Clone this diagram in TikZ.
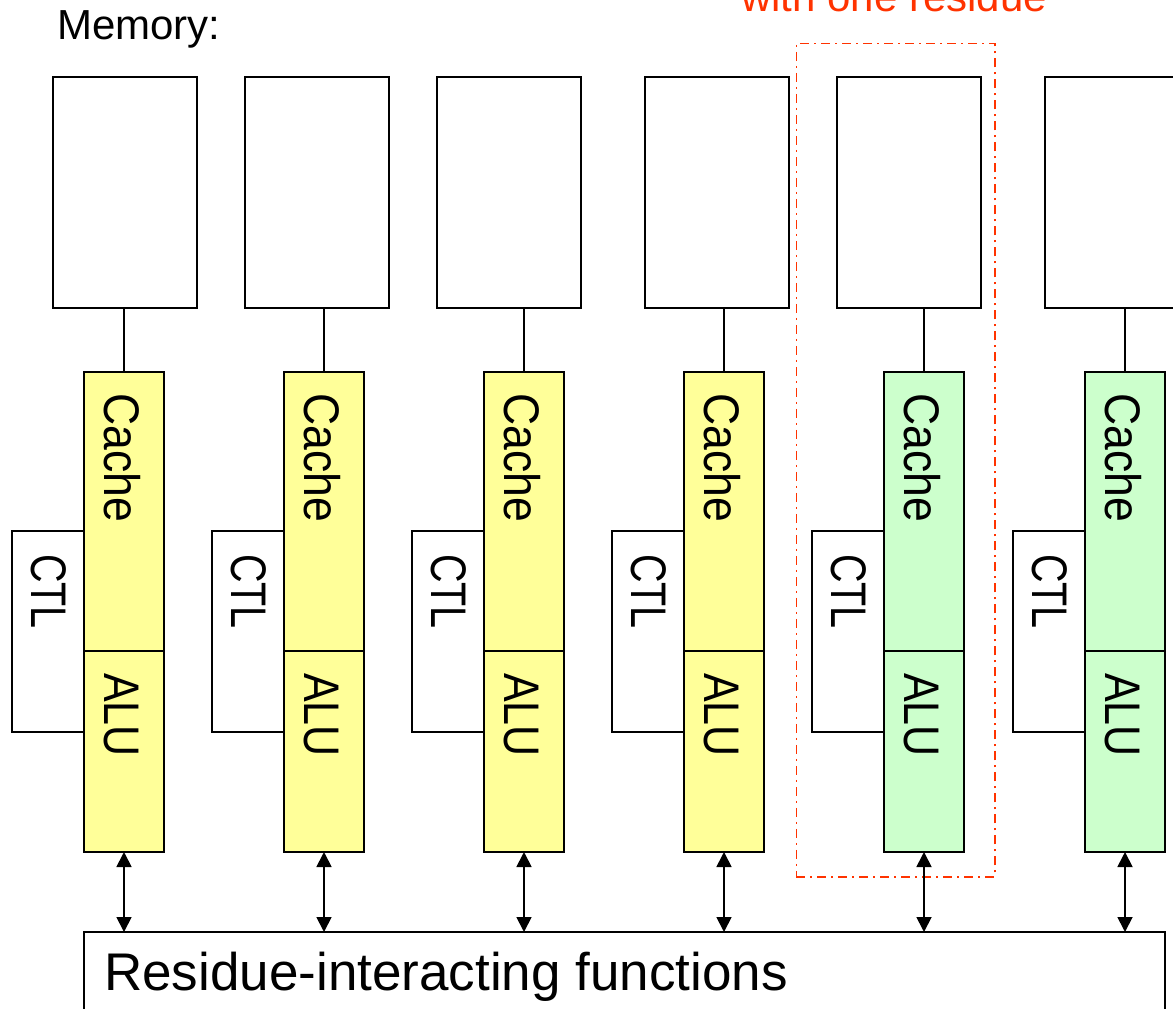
\documentclass[tikz,border=0pt]{standalone}
\usepackage{fontspec}
\setmainfont{Liberation Sans}
\usetikzlibrary{arrows.meta}
\definecolor{cacheY}{HTML}{FFFF99}
\definecolor{cacheG}{HTML}{CCFFCC}
\definecolor{redline}{HTML}{FF3300}
\begin{document}
\begin{tikzpicture}[x=1pt,y=-1pt,
  box/.style={draw,line width=1.8pt,inner sep=0pt,outer sep=0pt,fill=white},
  membox/.style={box,minimum width=144pt,minimum height=231pt},
  cachebox/.style={box,minimum width=80pt,minimum height=279pt},
  alubox/.style={box,minimum width=80pt,minimum height=201pt},
  ctlbox/.style={box,minimum width=72pt,minimum height=201pt},
  rottext/.style={rotate=-90,inner sep=0pt,anchor=base west,font=\fontsize{50}{60}\selectfont},
  plaintext/.style={inner sep=0pt,anchor=base west},
  link/.style={line width=1.8pt},
  biarrow/.style={line width=1.8pt,{Triangle[length=15pt,width=15pt]}-{Triangle[length=15pt,width=15pt]}},
  groupbox/.style={draw=redline,line width=1.6pt,dash pattern=on 9pt off 5pt on 2pt off 5pt,inner sep=0pt,minimum width=198.5pt,minimum height=833.5pt,anchor=north west}
]
\useasboundingbox (0,0) rectangle (1173,1009);
\clip (0,0) rectangle (1173,1009);
\fill[white] (0,0) rectangle (1173,1009);

\node[plaintext,font=\fontsize{42}{50}\selectfont] (memlabel) at (57,39) {Memory:};
\node[plaintext,font=\fontsize{42}{50}\selectfont,text=redline] (grplabel) at (741,12) {with one residue};

\node[groupbox] (grp) at (795.5,42.5) {};

\node[box,minimum width=1081pt,minimum height=120pt,anchor=north west] (res) at (84,932) {};
\node[plaintext,font=\fontsize{53}{62}\selectfont] (restext) at (104,990) {Residue-interacting functions};

\foreach \i/\mx/\cx/\col in {1/125/124/cacheY,2/317/324/cacheY,3/509/524/cacheY,4/717/724/cacheY,5/909/924/cacheG,6/1117/1125/cacheG}{
  \node[membox] (m\i) at (\mx,192.5) {};
  \node[ctlbox] (t\i) at ({\cx-76},631.5) {};
  \node[cachebox,fill=\col] (c\i) at (\cx,511.5) {};
  \node[alubox,fill=\col] (a\i) at (\cx,751.5) {};
  \node[rottext] (ct\i) at ({\cx-20},393) {\scalebox{0.89}[1]{Cache}};
  \node[rottext] (at\i) at ({\cx-20},673) {\scalebox{0.86}[1]{ALU}};
  \node[rottext] (tt\i) at ({\cx-93},554) {\scalebox{0.79}[1]{CTL}};
  \draw[link] (c\i.north |- m\i.south) -- (c\i.north);
  \draw[biarrow] (a\i.south) -- (a\i.south |- res.north);
}
\end{tikzpicture}
\end{document}
